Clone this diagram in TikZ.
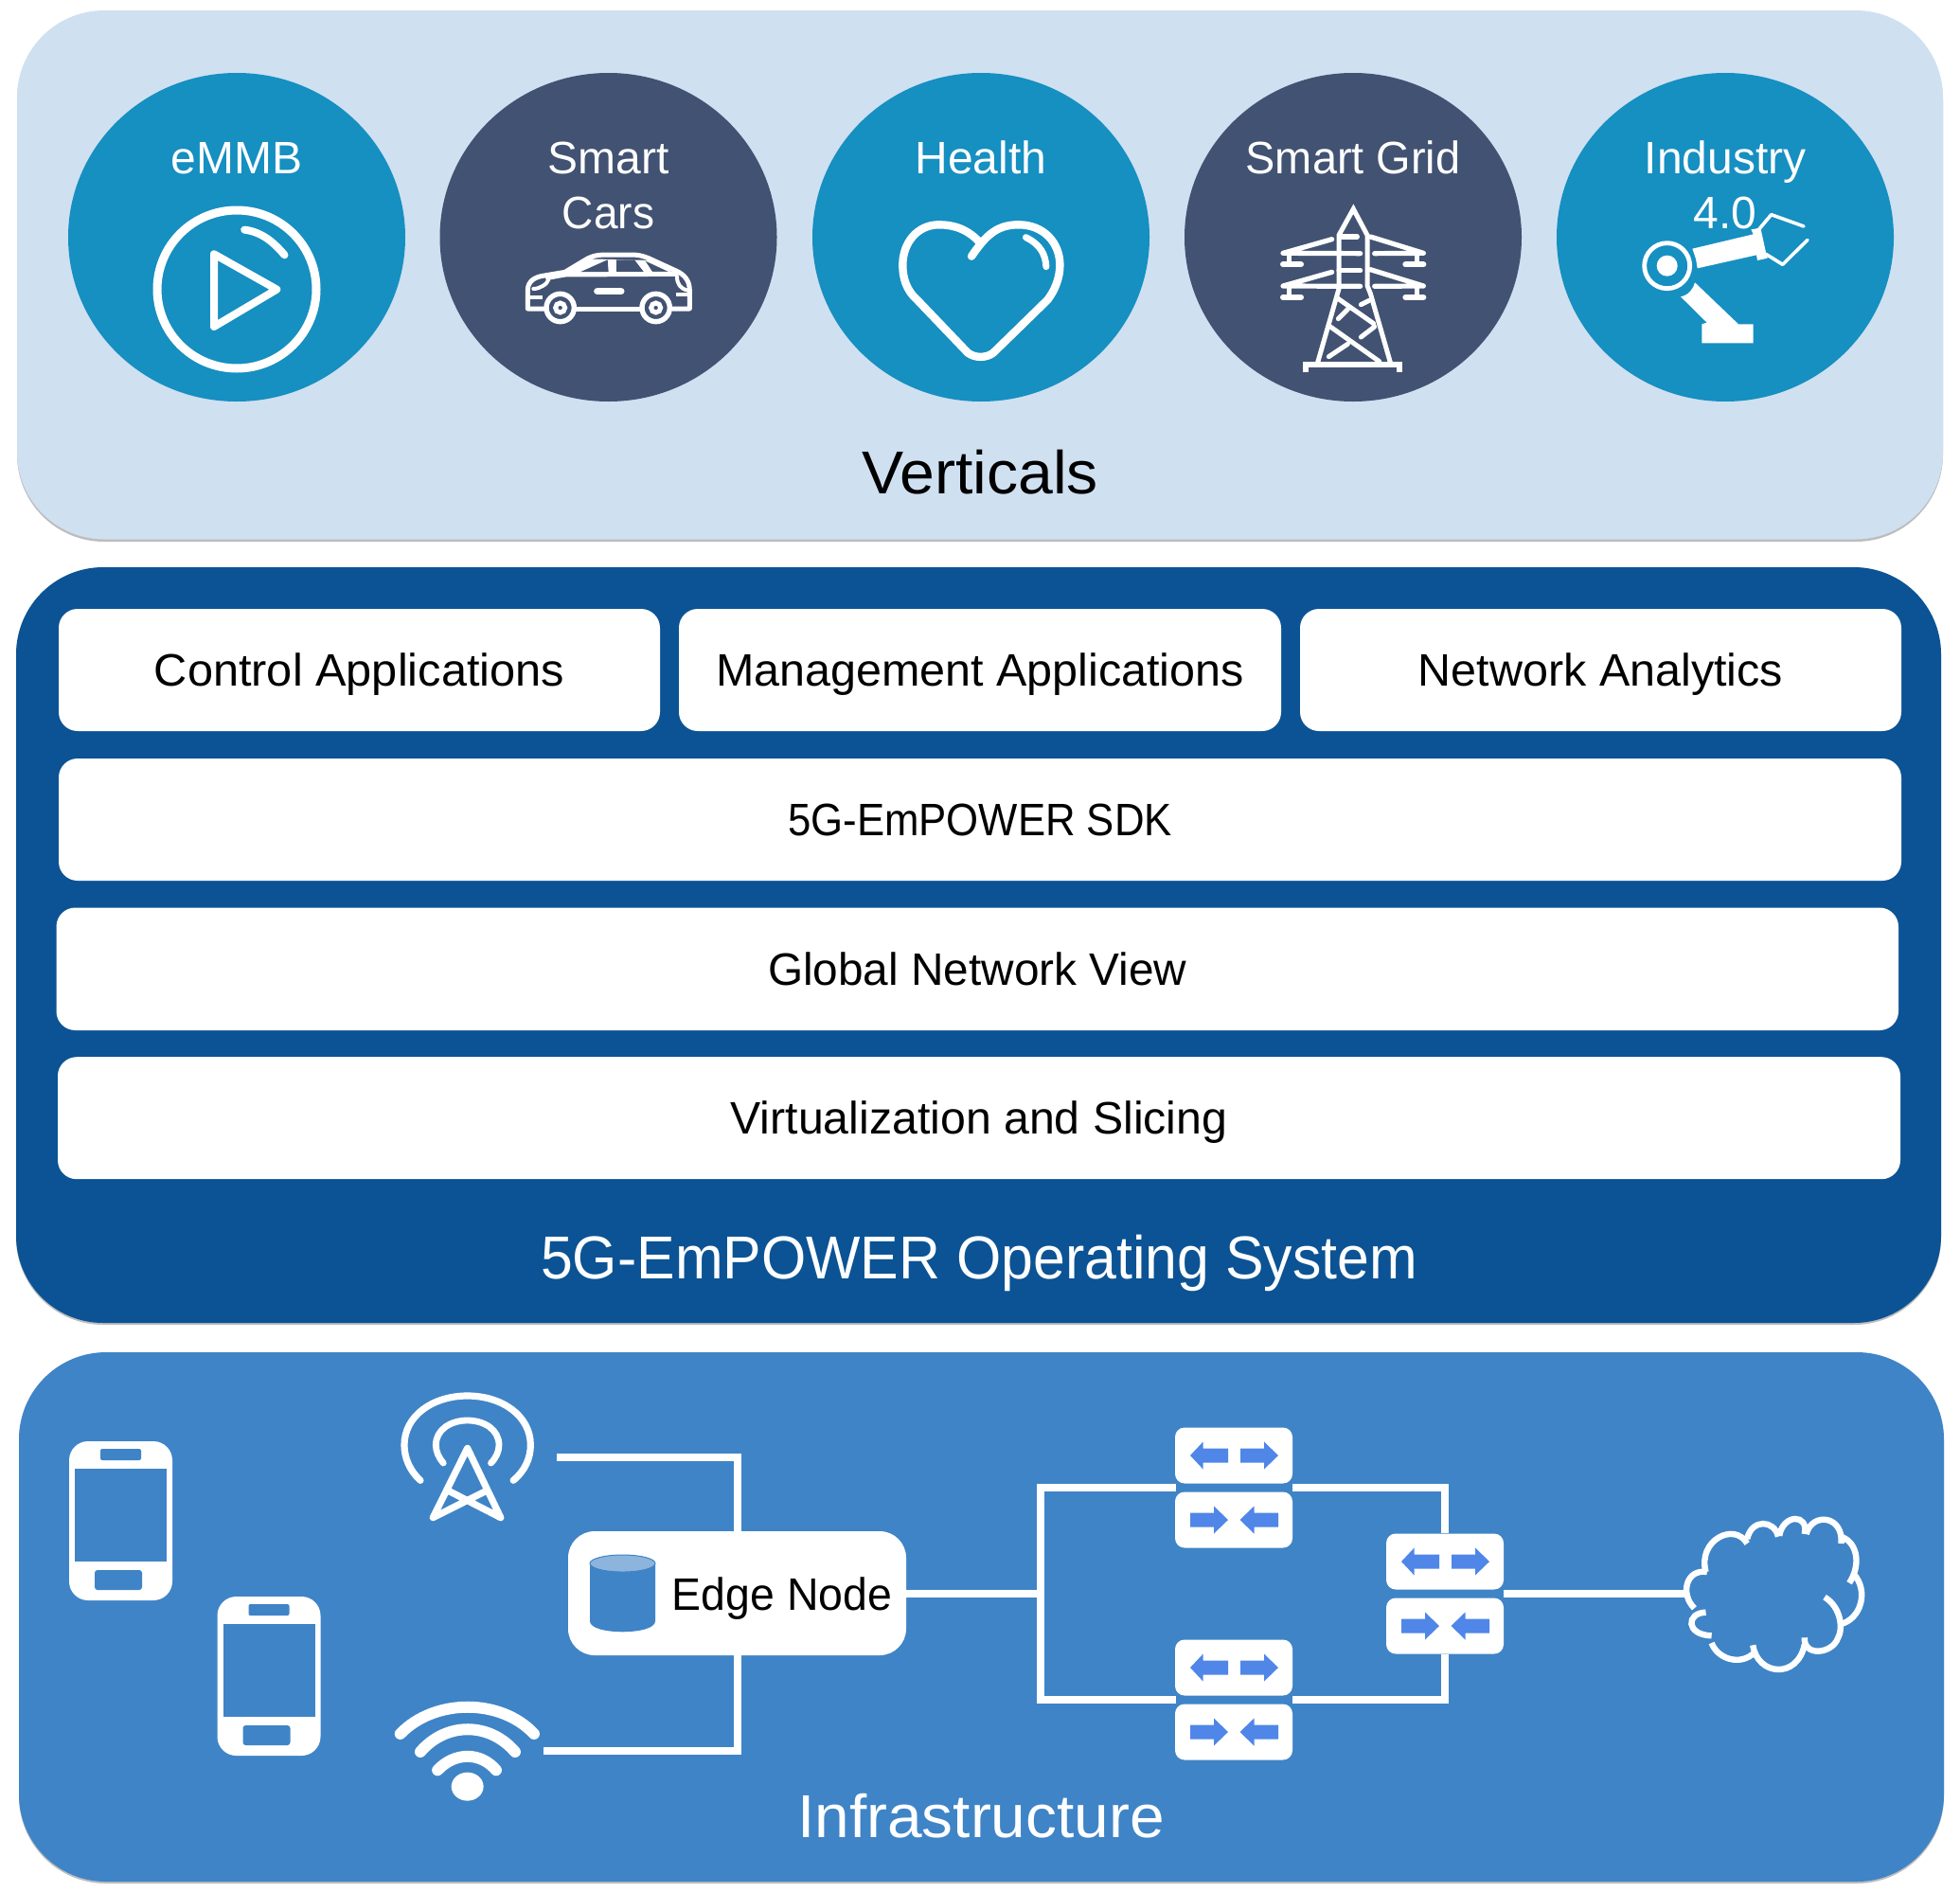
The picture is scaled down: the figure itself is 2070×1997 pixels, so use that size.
\documentclass[tikz,border=0pt]{standalone}
\usepackage{fontspec}
\setmainfont{Liberation Sans}
\usetikzlibrary{shapes.geometric,calc}
\definecolor{pV}{HTML}{CFE0F1}
\definecolor{pO}{HTML}{0B5394}
\definecolor{pI}{HTML}{3F84C7}
\definecolor{cL}{HTML}{168FC1}
\definecolor{cD}{HTML}{425272}
\definecolor{arw}{HTML}{4F86E8}
\definecolor{cyl}{HTML}{8DB4DD}
\definecolor{shd}{HTML}{BDBDBD}
\tikzset{
  panel/.style={rounded corners=46pt,draw=none,inner sep=0pt},
  vcirc/.style={ellipse,draw=none,inner sep=0pt,minimum width=178pt,minimum height=173.5pt},
  vlabel/.style={text=white,font=\fontsize{24}{29}\selectfont,align=center,inner sep=0pt},
  wbox/.style={fill=white,rounded corners=10pt,inner sep=0pt,font=\fontsize{24}{29}\selectfont,text=black,text height=17pt,text depth=0pt},
  title/.style={font=\fontsize{32}{38}\selectfont,inner sep=0pt,text height=22.5pt,text depth=0pt},
  swbox/.style={fill=white,rounded corners=5pt,inner sep=0pt,minimum width=62pt,minimum height=29.5pt},
  conn/.style={draw=white,line width=4pt,line join=miter},
  ic/.style={draw=white,line cap=round,line join=round},
  Zone/.style={shift={(50,60)},xscale=.5102,yscale=.3333},
  Ztwo/.style={shift={(850,60)},xscale=.7653,yscale=.3333},
  Zthree/.style={shift={(50,1450)},xscale=.6061,yscale=.3333},
  Zfour/.style={shift={(1050,1480)},xscale=.6061,yscale=.3333},
}
\newcommand{\phoneicon}[2]{%
  \begin{scope}[shift={(#1,#2)}]
    \fill[white,rounded corners=10pt] (0,0) rectangle (109,168);
    \fill[pI] (6,29) rectangle (103,127);
    \fill[pI,rounded corners=1pt] (33,8) rectangle (76,20);
    \fill[pI,rounded corners=1.5pt] (27,136) rectangle (77,157);
  \end{scope}}
\newcommand{\switchpair}[3]{% name, left x, top y
  \node[swbox] (#1t) at (#2+62,#3+29.5) {};
  \node[swbox] (#1b) at (#2+62,#3+97.5) {};
  \begin{scope}[shift={(#2,#3+29.5)}]
    \fill[arw] (16,0) -- (29.6,-14.5) -- (29.6,-7.5) -- (56,-7.5) -- (56,7.5) -- (29.6,7.5) -- (29.6,14.5) -- cycle;
    \fill[arw] (109,0) -- (94,-14.5) -- (94,-7.5) -- (69,-7.5) -- (69,7.5) -- (94,7.5) -- (94,14.5) -- cycle;
  \end{scope}
  \begin{scope}[shift={(#2,#3+97.5)}]
    \fill[arw] (56,0) -- (41,-14.5) -- (41,-7.5) -- (16,-7.5) -- (16,7.5) -- (41,7.5) -- (41,14.5) -- cycle;
    \fill[arw] (68.5,0) -- (83.5,-14.5) -- (83.5,-7.5) -- (109,-7.5) -- (109,7.5) -- (83.5,7.5) -- (83.5,14.5) -- cycle;
  \end{scope}}
\begin{document}
\begin{tikzpicture}[x=0.5pt,y=-0.5pt]
\useasboundingbox (0,0) rectangle (2070,1997);
\fill[white] (0,0) rectangle (2070,1997);
% panels
\fill[shd,panel] (18,14) rectangle (2052,572);
\fill[pV,panel] (18,11) rectangle (2052,569.5);
\fill[shd,panel] (17,602) rectangle (2050,1399);
\fill[pO,panel] (17,599) rectangle (2050,1397);
\fill[shd,panel] (20,1431) rectangle (2053,1989);
\fill[pI,panel] (20,1428) rectangle (2053,1987);
% verticals
\node[vcirc,fill=cL] (v1) at (250,250.5) {};
\node[vcirc,fill=cD] (v2) at (642.5,250.5) {};
\node[vcirc,fill=cL] (v3) at (1036,250.5) {};
\node[vcirc,fill=cD] (v4) at (1429,250.5) {};
\node[vcirc,fill=cL] (v5) at (1822,250.5) {};
\node[vlabel,anchor=base] (l1) at (250,183) {eMMB};
\node[vlabel,anchor=base] (l2a) at (642.5,183) {Smart};
\node[vlabel,anchor=base] (l2b) at (642.5,241) {\scalebox{.96}[1]{Cars}};
\node[vlabel,anchor=base] (l3) at (1036,183) {Health};
\node[vlabel,anchor=base] (l4) at (1429,183) {\scalebox{.977}[1]{Smart Grid}};
\node[vlabel,anchor=base] (l5a) at (1822,183) {Industry};
\node[vlabel,anchor=base] (l5b) at (1822,241) {4.0};
\node[title,text=black] (tv) at (1035,499) {\scalebox{1.033}[1]{Verticals}};
% play icon
\draw[white,line width=4.5pt] (250,305.5) ellipse [x radius=84,y radius=83.5];
\begin{scope}[Zone]
  \draw[ic,line width=4pt] (408,548) .. controls (445,555) and (470,590) .. (491,628);
  \draw[white,line width=4pt,line join=round] (345,625) -- (345,855) -- (475,737) -- cycle;
\end{scope}
% car
\begin{scope}[shift={(540,255)},scale=1/3]
  \draw[ic,line width=2.5pt,line cap=butt,line join=round] (105,213) -- (52,213) -- (52,155) .. controls (52,125) and (75,112) .. (105,108) -- (170,97) -- (240,55) .. controls (265,42) and (285,42) .. (305,42) -- (380,42) .. controls (410,42) and (430,50) .. (450,60) -- (520,92) .. controls (550,105) and (565,125) .. (565,155) -- (565,213) -- (510,213);
  \fill[white] (170,105) -- (240,55) -- (450,60) -- (520,103) -- cycle;
  \fill[cD] (218,97) -- (305,58) -- (308,97) -- cycle;
  \fill[cD] (333,58) -- (390,58) -- (420,97) -- (333,97) -- cycle;
  \fill[cD] (425,62) -- (500,97) -- (448,97) -- cycle;
  \draw[ic,line width=2.5pt] (115,115) -- (170,105) -- (520,103);
  \draw[ic,line width=2pt] (70,150) .. controls (90,150) and (115,135) .. (118,120);
  \draw[ic,line width=2pt] (525,110) .. controls (525,135) and (535,150) .. (560,155);
  \draw[ic,line width=2pt,line cap=butt] (52,178) -- (98,178) (522,168) -- (565,168);
  \draw[ic,line width=2.5pt,line cap=butt] (205,213) -- (410,213);
  \draw[ic,line width=3.5pt] (272,158) -- (348,158);
  \draw[white,line width=2.7pt] (155,210) circle [radius=44];
  \draw[white,line width=2.5pt] (155,210) circle [radius=15];
  \draw[white,line width=2.7pt] (458,210) circle [radius=44];
  \draw[white,line width=2.5pt] (458,210) circle [radius=15];
\end{scope}
\begin{scope}[Ztwo]
  % heart
  \draw[ic,line width=4.2pt] (243,592) .. controls (225,545) and (205,532) .. (185,532) .. controls (155,532) and (135,590) .. (135,660) .. controls (135,700) and (140,740) .. (155,770) -- (225,938) .. controls (235,955) and (250,955) .. (260,938) -- (335,770) .. controls (345,740) and (352,700) .. (352,660) .. controls (352,590) and (330,532) .. (295,532) .. controls (265,532) and (250,565) .. (230,632);
  \draw[ic,line width=3.5pt] (305,572) .. controls (325,595) and (332,625) .. (333,665);
\end{scope}
% pylon
\begin{scope}[shift={(1340,210)},scale=1/3]
  \draw[ic,line width=2.5pt,line cap=butt,line join=miter] (155,518) -- (222,285) -- (222,115) -- (268,32) -- (312,115) -- (312,275) -- (322,300) -- (385,518);
  \draw[ic,line width=3pt,line cap=butt,line join=miter] (118,550) -- (118,524) -- (415,524) -- (415,550);
  \foreach \d in {0,104}{
    \draw[ic,line width=2.6pt] (200,\d+128) -- (45,\d+172) -- (290,\d+173);
    \draw[ic,line width=2.6pt] (322,\d+120) -- (490,\d+172) -- (335,\d+173);
    \draw[ic,line width=2.4pt] (65,\d+175) -- (65,\d+205) (470,\d+175) -- (470,\d+205);
    \draw[ic,line width=3pt] (45,\d+208) -- (102,\d+208) (433,\d+208) -- (490,\d+208);
  }
  \draw[ic,line width=2.6pt] (232,120) -- (280,120) (222,227) -- (290,227);
  \draw[ic,line width=2.5pt] (218,315) -- (332,395) (318,322) -- (292,335) (250,350) -- (220,380) (195,405) -- (350,515) (335,405) -- (292,438) (250,460) -- (190,500);
\end{scope}
% robot
\begin{scope}[shift={(1740,210)},scale=1/3]
  \draw[white,line width=2.4pt] (62,212) circle [radius=72];
  \fill[white] (62,212) circle [radius=33];
  \fill[white] (142,158) -- (335,112) -- (328,97) -- (358,92) -- (375,170) -- (380,188) -- (348,195) -- (345,178) -- (158,220) -- (153,190) -- cycle;
  \draw[ic,line width=1.8pt] (350,100) -- (392,50) -- (495,87);
  \draw[ic,line width=1.8pt] (375,175) -- (428,208) -- (507,130);
  \fill[white] (150,265) -- (288,397) -- (335,397) -- (335,457) -- (172,457) -- (172,397) -- (188,392) -- (105,310) .. controls (130,305) and (145,285) .. (150,265) -- cycle;
\end{scope}
% operating system
\node[wbox,minimum width=317.5pt,minimum height=64.5pt] (ctrl) at (379.5,707.5) {\scalebox{1.015}[1]{Control Applications}};
\node[wbox,minimum width=318pt,minimum height=64.5pt] (mgmt) at (1035,707.5) {\scalebox{1.01}[1]{Management Applications}};
\node[wbox,minimum width=317.5pt,minimum height=64.5pt] (ana) at (1690.5,707.5) {\scalebox{1.01}[1]{Network Analytics}};
\node[wbox,minimum width=973pt,minimum height=64.5pt] (sdk) at (1035,865.5) {\scalebox{.911}[1]{5G-EmPOWER SDK}};
\node[wbox,minimum width=972.75pt,minimum height=64.75pt] (gnv) at (1032.25,1023.25) {\scalebox{.995}[1]{Global Network View}};
\node[wbox,minimum width=973pt,minimum height=64.5pt] (vs) at (1034,1180.7) {\scalebox{1.005}[1]{Virtualization and Slicing}};
\node[title,text=white] (tos) at (1034,1328) {\scalebox{.95}[1]{5G-EmPOWER Operating System}};
% infrastructure
\phoneicon{73}{1522}
\phoneicon{229.5}{1686}
\coordinate (ant) at (588,1538.5);
\coordinate (wifi) at (574,1849);
\coordinate (jl) at (1099,1682.5);
\coordinate (swAl) at (1242,1570.5);
\coordinate (swAr) at (1365,1570.5);
\coordinate (swCl) at (1242,1794.5);
\coordinate (swCr) at (1365,1794.5);
\coordinate (swBr) at (1588,1682.5);
\coordinate (cloud) at (1780,1682.5);
\node[fill=white,rounded corners=14pt,minimum width=178.5pt,minimum height=65.5pt,inner sep=0pt] (edge) at (778.5,1682.5) {};
\switchpair{A}{1241}{1507.5}
\switchpair{C}{1241}{1731.5}
\switchpair{B}{1464}{1619.5}
\draw[conn] (ant) -| (edge.north);
\draw[conn] (wifi) -| (edge.south);
\draw[conn] (edge.east) -- (jl);
\draw[conn] (swAl) -- (jl |- swAl) -- (jl |- swCl) -- (swCl);
\draw[conn] (swAr) -| (Bt.north);
\draw[conn] (swCr) -| (Bb.south);
\draw[conn] (swBr) -- (cloud);
% edge node contents
\fill[pI] (623,1651) -- (623,1712) .. controls (623,1727) and (692,1727) .. (692,1712) -- (692,1651) -- cycle;
\fill[cyl,draw=pI,line width=.5pt] (657.5,1651) ellipse [x radius=34.5,y radius=9];
\node[inner sep=0pt,text=black,font=\fontsize{24}{29}\selectfont,text height=17pt,text depth=0pt] (edgelabel) at (826,1683) {\scalebox{.967}[1]{Edge Node}};
\node[title,text=white] (tinf) at (1036,1918) {\scalebox{1.028}[1]{Infrastructure}};
\begin{scope}[Zthree]
  % antenna
  \draw[ic,line width=3.6pt] (650,340) .. controls (632,310) and (622,270) .. (622,228) .. controls (622,135) and (672,72) .. (732,72) .. controls (792,72) and (842,135) .. (842,228) .. controls (842,270) and (832,310) .. (812,340);
  \draw[ic,line width=3.4pt] (690,285) .. controls (682,268) and (677,248) .. (677,228) .. controls (677,180) and (702,150) .. (732,150) .. controls (762,150) and (787,180) .. (787,228) .. controls (787,248) and (782,268) .. (773,285);
  \draw[ic,line width=3.6pt] (732,238) -- (672,458) -- (766,372) (732,238) -- (790,458) -- (698,372);
  % wifi
  \draw[ic,line width=6pt] (615,1143) .. controls (675,1030) and (790,1030) .. (848,1143);
  \draw[ic,line width=6pt] (650,1200) .. controls (695,1105) and (770,1105) .. (815,1200);
  \draw[ic,line width=6pt] (680,1258) .. controls (710,1200) and (755,1200) .. (782,1258);
  \fill[white] (732,1310) ellipse [x radius=28,y radius=45];
\end{scope}
\begin{scope}[Zfour]
  % cloud
  \draw[white,line width=3.2pt]
    (1240,540) .. controls (1225,440) and (1290,380) .. (1312,450)
    (1312,435) .. controls (1320,370) and (1360,375) .. (1366,428)
    (1368,425) .. controls (1375,355) and (1420,355) .. (1412,420)
    (1415,420) .. controls (1425,350) and (1480,360) .. (1476,450)
    (1478,430) .. controls (1505,450) and (1510,520) .. (1490,575)
    (1497,545) .. controls (1525,600) and (1510,690) .. (1475,705)
    (1447,620) .. controls (1475,650) and (1480,720) .. (1470,750) .. controls (1460,800) and (1410,810) .. (1412,748)
    (1412,770) .. controls (1400,880) and (1330,870) .. (1322,772)
    (1325,795) .. controls (1300,840) and (1260,815) .. (1250,765)
    (1250,742) .. controls (1205,740) and (1205,670) .. (1240,668)
    (1220,655) .. controls (1195,610) and (1205,530) .. (1242,540);
\end{scope}
\end{tikzpicture}
\end{document}
